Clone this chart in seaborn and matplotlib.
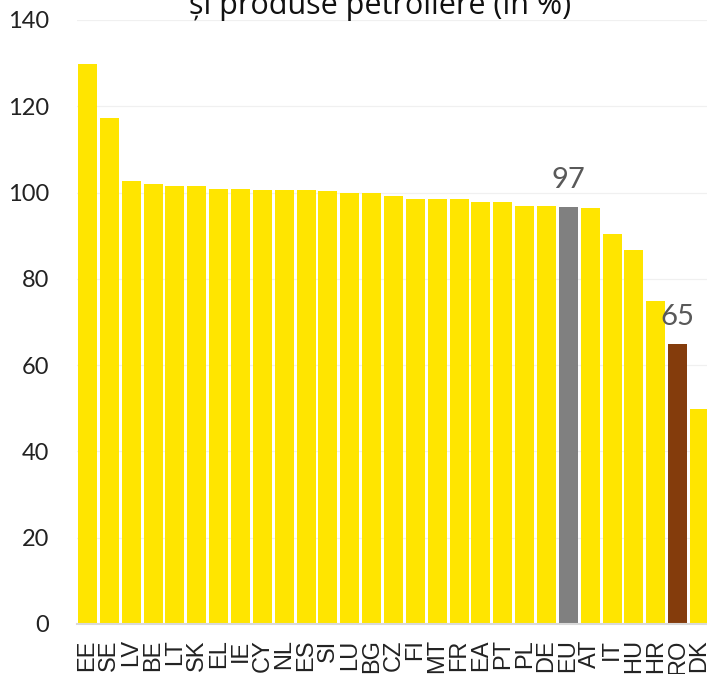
import matplotlib
matplotlib.use("Agg")
import matplotlib.pyplot as plt
import seaborn as sns
import pandas as pd

countries = ["EE", "SE", "LV", "BE", "LT", "SK", "EL", "IE", "CY", "NL", "ES", "SI", "LU", "BG",
             "CZ", "FI", "MT", "FR", "EA", "PT", "PL", "DE", "EU", "AT", "IT", "HU", "HR", "RO", "DK"]
values = [129.9, 117.2, 102.7, 102.0, 101.6, 101.5, 100.9, 100.8, 100.5, 100.5, 100.5, 100.3, 100.0, 99.9,
          99.3, 98.6, 98.4, 98.4, 97.9, 97.7, 96.9, 96.8, 96.7, 96.4, 90.5, 86.8, 74.8, 64.9, 49.8]
labelled = {"EU": "97", "RO": "65"}
yticks = [0, 20, 40, 60, 80, 100, 120, 140]
title = "și produse petroliere (în %)"

YELLOW = "#FFE500"
GREY = "#808080"
BROWN = "#843C0C"
colors = {c: (GREY if c == "EU" else BROWN if c == "RO" else YELLOW) for c in countries}

df = pd.DataFrame({"country": countries, "value": values})

sns.set_theme(style="white")
plt.rcParams["font.family"] = ["Lato", "DejaVu Sans"]

W, H = 707, 674
fig = plt.figure(figsize=(W / 100, H / 100), dpi=100)
ax = fig.add_axes([77 / W, 50 / H, 630 / W, 604 / H])

sns.barplot(data=df, x="country", y="value", hue="country", palette=colors,
            width=0.87, saturation=1, legend=False, ax=ax, linewidth=0)

ax.set_ylim(0, 140)
ax.set_xlim(-0.48, 28.34)
ax.set_yticks(yticks)
ax.yaxis.grid(True, color="#f0f0f0", linewidth=0.9)
ax.xaxis.grid(False)
ax.set_axisbelow(True)
for s in ["top", "right", "left"]:
    ax.spines[s].set_visible(False)
ax.spines["bottom"].set_color("#d9d9d9")
ax.spines["bottom"].set_linewidth(1.5)
ax.set_xlabel("")
ax.set_ylabel("")

ax.tick_params(axis="y", length=0, pad=20, labelsize=17, labelcolor="#222222")
ax.tick_params(axis="x", length=0, pad=11, labelsize=17, labelcolor="#222222")
for lab in ax.get_xticklabels():
    lab.set_rotation(90)
    lab.set_family(["Liberation Sans", "DejaVu Sans"])
    lab.set_va("top")
    lab.set_ha("center")

for i, (c, v) in enumerate(zip(countries, values)):
    if c in labelled:
        ax.text(i, v + 4.3, labelled[c], ha="center", va="baseline",
                fontsize=21, color="#595959")

fig.text(380 / W, 1 - 14 / H, title, ha="center", va="baseline",
         fontsize=22, color="#111111", family=["Open Sans", "DejaVu Sans"])

fig.savefig("out.png", dpi=100)
